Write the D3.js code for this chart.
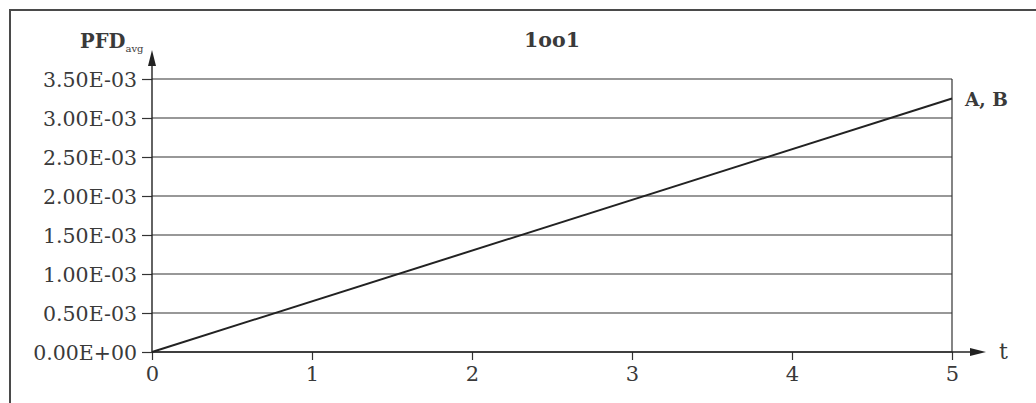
<!DOCTYPE html>
<html><head><meta charset="utf-8">
<script src="https://cdn.jsdelivr.net/npm/d3@7"></script>
<style>
html,body{margin:0;padding:0;background:#fff;}
svg{display:block;}
text{font-family:"DejaVu Serif",serif;fill:#3a3a3a;}
</style></head>
<body>
<svg id="c" width="1036" height="403"></svg>
<script>
const xTicks = [0, 1, 2, 3, 4, 5];
const yTicks = [0, 0.0005, 0.001, 0.0015, 0.002, 0.0025, 0.003, 0.0035];
const yTickLabels = ["0.00E+00","0.50E-03","1.00E-03","1.50E-03","2.00E-03","2.50E-03","3.00E-03","3.50E-03"];
const seriesT = [0, 5];
const seriesPFD = [0, 0.00325];
const seriesName = "A, B";
const title = "1oo1";

const svg = d3.select("#c");
const x = d3.scaleLinear().domain([0, 5]).range([152, 952]);
const y = d3.scaleLinear().domain([0, 0.0035]).range([352, 79]);

// outer frame
svg.append("path").attr("d", "M10,403 L10,10 L1036,10")
  .attr("fill", "none").attr("stroke", "#4a4a4a").attr("stroke-width", 2);

// gridlines + y ticks
const yAxis = d3.axisLeft(y).tickValues(yTicks)
  .tickFormat((d, i) => yTickLabels[i]).tickSize(10).tickSizeOuter(0).tickPadding(5);
const gy = svg.append("g").attr("transform", `translate(${x(0)},0)`).call(yAxis);
gy.select(".domain").remove();
gy.selectAll(".tick line").attr("stroke", "#333").attr("stroke-width", 1.2);
gy.selectAll(".tick text").attr("font-size", 20.5).attr("fill", "#444")
  .attr("font-family", "DejaVu Serif").attr("dy", "0.36em");

svg.append("g").selectAll("line").data(yTicks).join("line")
  .attr("x1", x(0)).attr("x2", x(5))
  .attr("y1", d => y(d)).attr("y2", d => y(d))
  .attr("stroke", "#333").attr("stroke-width", 1.2);

// right vertical border of plot
svg.append("line").attr("x1", x(5)).attr("x2", x(5)).attr("y1", y(0.0035)).attr("y2", y(0))
  .attr("stroke", "#333").attr("stroke-width", 1.2);

// x axis
const xAxis = d3.axisBottom(x).tickValues(xTicks).tickFormat(d3.format("d"))
  .tickSize(8).tickSizeOuter(0).tickPadding(6);
const gx = svg.append("g").attr("transform", `translate(0,${y(0)})`).call(xAxis);
gx.select(".domain").remove();
gx.selectAll(".tick line").attr("stroke", "#333").attr("stroke-width", 1.2);
gx.selectAll(".tick text").attr("font-size", 21).attr("fill", "#444")
  .attr("font-family", "DejaVu Serif");

// axis lines with arrows
svg.append("line").attr("x1", x(0)).attr("x2", 972).attr("y1", y(0)).attr("y2", y(0))
  .attr("stroke", "#222").attr("stroke-width", 1.4);
svg.append("path").attr("d", `M970,${y(0)-4} L986,${y(0)} L970,${y(0)+4} Z`).attr("fill", "#222");
svg.append("line").attr("x1", x(0)).attr("x2", x(0)).attr("y1", y(0)).attr("y2", 64)
  .attr("stroke", "#222").attr("stroke-width", 1.4);
svg.append("path").attr("d", `M${x(0)-4},66 L${x(0)},50 L${x(0)+4},66 Z`).attr("fill", "#222");

// data line
const line = d3.line().x((d, i) => x(seriesT[i])).y(d => y(d));
svg.append("path").datum(seriesPFD).attr("d", line)
  .attr("fill", "none").attr("stroke", "#222").attr("stroke-width", 2);

// labels
svg.append("text").attr("x", 999).attr("y", y(0) + 7).attr("font-size", 22)
  .attr("font-family", "DejaVu Sans").attr("fill", "#333").text("t");
svg.append("text").attr("x", x(5) + 13).attr("y", y(seriesPFD[1]) + 7)
  .attr("font-size", 18.5).attr("font-weight", "bold").attr("fill", "#333").text(seriesName);
svg.append("text").attr("x", (x(0) + x(5)) / 2).attr("y", 47).attr("text-anchor", "middle")
  .attr("font-size", 20.5).attr("font-weight", "bold").attr("fill", "#333").text(title);
const yl = svg.append("text").attr("x", 80).attr("y", 48).attr("font-size", 19.5)
  .attr("font-weight", "bold").attr("fill", "#333");
yl.append("tspan").text("PFD");
yl.append("tspan").attr("font-size", 10).attr("font-weight", "normal").attr("dy", 4).text("avg");
</script>
</body></html>
